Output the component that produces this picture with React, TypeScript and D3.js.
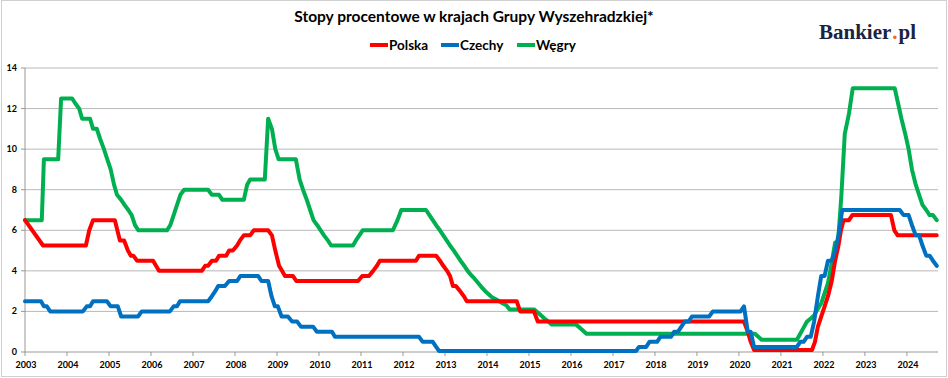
import React, { useLayoutEffect, useRef, useState } from "react";
import * as d3 from "d3";

type Pt = [number, number];

const title = "Stopy procentowe w krajach Grupy Wyszehradzkiej*";
const seriesNames = ["Polska", "Czechy", "Węgry"];
const seriesColors = ["#ff0000", "#0070c0", "#00b050"];
const yTicks = [0, 2, 4, 6, 8, 10, 12, 14];
const years = d3.range(2003, 2025);

const polska: Pt[] = [
  [2003.0, 6.5], [2003.43, 5.25], [2004.45, 5.25], [2004.53, 6.0], [2004.62, 6.5], [2005.14, 6.5],
  [2005.26, 5.5], [2005.36, 5.5], [2005.45, 5.0], [2005.52, 4.75], [2005.58, 4.75], [2005.67, 4.5],
  [2006.05, 4.5], [2006.19, 4.0], [2007.21, 4.0], [2007.29, 4.25], [2007.36, 4.25], [2007.45, 4.5],
  [2007.55, 4.5], [2007.62, 4.75], [2007.79, 4.75], [2007.86, 5.0], [2007.95, 5.0], [2008.05, 5.25],
  [2008.12, 5.5], [2008.21, 5.75], [2008.36, 5.75], [2008.45, 6.0], [2008.79, 6.0], [2008.88, 5.75],
  [2008.96, 5.0], [2009.05, 4.25], [2009.12, 4.0], [2009.19, 3.75], [2009.38, 3.75], [2009.46, 3.5],
  [2010.93, 3.5], [2011.03, 3.75], [2011.19, 3.75], [2011.29, 4.0], [2011.38, 4.25], [2011.45, 4.5],
  [2012.31, 4.5], [2012.38, 4.75], [2012.79, 4.75], [2012.88, 4.5], [2012.96, 4.25], [2013.05, 4.0],
  [2013.12, 3.75], [2013.19, 3.25], [2013.26, 3.25], [2013.36, 3.0], [2013.45, 2.75], [2013.52, 2.5],
  [2014.71, 2.5], [2014.79, 2.0], [2015.12, 2.0], [2015.21, 1.5], [2020.12, 1.5], [2020.21, 1.0],
  [2020.28, 0.5], [2020.36, 0.1], [2021.74, 0.1], [2021.81, 0.5], [2021.88, 1.25], [2021.96, 1.75],
  [2022.04, 2.25], [2022.12, 2.75], [2022.21, 3.5], [2022.29, 4.5], [2022.37, 5.25], [2022.43, 6.0],
  [2022.49, 6.5], [2022.62, 6.5], [2022.7, 6.75], [2023.62, 6.75], [2023.7, 6.0], [2023.78, 5.75],
  [2024.71, 5.75],
];

const czechy: Pt[] = [
  [2003.0, 2.5], [2003.38, 2.5], [2003.45, 2.25], [2003.52, 2.25], [2003.6, 2.0], [2004.38, 2.0],
  [2004.47, 2.25], [2004.55, 2.25], [2004.62, 2.5], [2004.95, 2.5], [2005.04, 2.25], [2005.21, 2.25],
  [2005.29, 1.75], [2005.69, 1.75], [2005.78, 2.0], [2006.45, 2.0], [2006.54, 2.25], [2006.62, 2.25],
  [2006.69, 2.5], [2007.36, 2.5], [2007.45, 2.75], [2007.53, 3.0], [2007.6, 3.25], [2007.76, 3.25],
  [2007.86, 3.5], [2008.05, 3.5], [2008.13, 3.75], [2008.55, 3.75], [2008.63, 3.5], [2008.79, 3.5],
  [2008.87, 2.75], [2008.95, 2.25], [2009.02, 2.25], [2009.11, 1.75], [2009.26, 1.75], [2009.36, 1.5],
  [2009.48, 1.5], [2009.57, 1.25], [2009.86, 1.25], [2009.95, 1.0], [2010.31, 1.0], [2010.38, 0.75],
  [2012.38, 0.75], [2012.47, 0.5], [2012.71, 0.5], [2012.79, 0.25], [2012.86, 0.05], [2017.55, 0.05],
  [2017.62, 0.25], [2017.79, 0.25], [2017.87, 0.5], [2018.05, 0.5], [2018.13, 0.75], [2018.38, 0.75],
  [2018.46, 1.0], [2018.55, 1.0], [2018.63, 1.25], [2018.71, 1.5], [2018.8, 1.5], [2018.88, 1.75],
  [2019.29, 1.75], [2019.38, 2.0], [2020.04, 2.0], [2020.12, 2.25], [2020.21, 1.0], [2020.28, 1.0],
  [2020.36, 0.25], [2021.38, 0.25], [2021.46, 0.5], [2021.54, 0.5], [2021.62, 0.75], [2021.71, 0.75],
  [2021.79, 1.5], [2021.88, 2.75], [2021.96, 3.75], [2022.04, 3.75], [2022.12, 4.5], [2022.21, 4.5],
  [2022.29, 5.0], [2022.37, 5.75], [2022.46, 7.0], [2023.83, 7.0], [2023.92, 6.75], [2024.04, 6.75],
  [2024.12, 6.25], [2024.21, 5.75], [2024.29, 5.75], [2024.37, 5.25], [2024.46, 4.75], [2024.54, 4.75],
  [2024.62, 4.5], [2024.71, 4.25],
];

const wegry: Pt[] = [
  [2003.0, 6.5], [2003.4, 6.5], [2003.45, 9.5], [2003.79, 9.5], [2003.86, 12.5], [2004.12, 12.5],
  [2004.2, 12.25], [2004.29, 12.0], [2004.36, 11.5], [2004.55, 11.5], [2004.62, 11.0], [2004.71, 11.0],
  [2004.79, 10.5], [2004.88, 10.0], [2004.96, 9.5], [2005.04, 9.0], [2005.12, 8.25], [2005.19, 7.75],
  [2005.29, 7.5], [2005.37, 7.25], [2005.46, 7.0], [2005.54, 6.75], [2005.62, 6.25], [2005.7, 6.0],
  [2006.38, 6.0], [2006.46, 6.25], [2006.54, 6.75], [2006.62, 7.25], [2006.7, 7.75], [2006.79, 8.0],
  [2007.36, 8.0], [2007.45, 7.75], [2007.62, 7.75], [2007.7, 7.5], [2008.21, 7.5], [2008.29, 8.25],
  [2008.36, 8.5], [2008.71, 8.5], [2008.79, 11.5], [2008.88, 11.0], [2008.96, 10.0], [2009.04, 9.5],
  [2009.45, 9.5], [2009.54, 8.5], [2009.62, 8.0], [2009.71, 7.5], [2009.79, 7.0], [2009.87, 6.5],
  [2009.96, 6.25], [2010.04, 6.0], [2010.12, 5.75], [2010.21, 5.5], [2010.29, 5.25], [2010.81, 5.25],
  [2010.88, 5.5], [2010.96, 5.75], [2011.04, 6.0], [2011.76, 6.0], [2011.87, 6.5], [2011.96, 7.0],
  [2012.55, 7.0], [2012.63, 6.75], [2012.71, 6.5], [2012.79, 6.25], [2012.88, 6.0], [2012.96, 5.75],
  [2013.04, 5.5], [2013.12, 5.25], [2013.21, 5.0], [2013.29, 4.75], [2013.37, 4.5], [2013.46, 4.25],
  [2013.54, 4.0], [2013.62, 3.8], [2013.71, 3.6], [2013.79, 3.4], [2013.87, 3.2], [2013.96, 3.0],
  [2014.04, 2.85], [2014.12, 2.7], [2014.21, 2.6], [2014.29, 2.5], [2014.37, 2.4], [2014.46, 2.3],
  [2014.54, 2.1], [2015.12, 2.1], [2015.21, 1.95], [2015.29, 1.8], [2015.37, 1.65], [2015.46, 1.5],
  [2015.54, 1.35], [2016.12, 1.35], [2016.21, 1.2], [2016.29, 1.05], [2016.37, 0.9], [2020.38, 0.9],
  [2020.46, 0.75], [2020.54, 0.6], [2021.38, 0.6], [2021.46, 0.9], [2021.54, 1.2], [2021.62, 1.5],
  [2021.71, 1.65], [2021.79, 1.8], [2021.87, 2.1], [2021.96, 2.4], [2022.04, 2.9], [2022.12, 3.4],
  [2022.21, 4.4], [2022.29, 5.4], [2022.36, 5.4], [2022.44, 7.75], [2022.52, 10.75], [2022.62, 11.75],
  [2022.71, 13.0], [2023.71, 13.0], [2023.79, 12.25], [2023.87, 11.5], [2023.96, 10.75], [2024.04, 10.0],
  [2024.12, 9.0], [2024.21, 8.25], [2024.29, 7.75], [2024.37, 7.25], [2024.46, 7.0], [2024.54, 6.75],
  [2024.62, 6.75], [2024.71, 6.5],
];

const W = 948;
const H = 378;
const FONT = "Lato, 'Open Sans', sans-serif";
const LOGO_FONT = "'Liberation Serif', 'DejaVu Serif', serif";
const LOGO_X = 819;

export default function App() {
  const x = d3.scaleLinear().domain([2003, 2024.74]).range([25, 938]);
  const y = d3.scaleLinear().domain([0, 14]).range([352, 68]);
  const line = d3
    .line<Pt>()
    .x((d) => x(d[0]))
    .y((d) => y(d[1]));

  const data = [polska, czechy, wegry];
  const drawOrder = [2, 0, 1];
  const legendX = [370, 441, 517];

  const bRef = useRef<SVGTextElement>(null);
  const dRef = useRef<SVGTextElement>(null);
  const [logoPos, setLogoPos] = useState({ dot: 892, pl: 899 });
  useLayoutEffect(() => {
    if (bRef.current && dRef.current) {
      const wb = bRef.current.getComputedTextLength();
      const wd = dRef.current.getComputedTextLength();
      setLogoPos({ dot: LOGO_X + wb + 1, pl: LOGO_X + wb + wd + 2 });
    }
  }, []);

  return (
    <svg
      width={W}
      height={H}
      style={{ position: "absolute", left: 0, top: 0, display: "block", background: "#fff" }}
      fontFamily={FONT}
    >
      <rect x={1.5} y={0.5} width={945} height={376} fill="#fff" stroke="#d0d0d0" />
      <text x={474} y={22} textAnchor="middle" fontSize={15.5} fontWeight={700} fill="#000">
        {title}
      </text>
      {seriesNames.map((n, i) => (
        <g key={n}>
          <line x1={legendX[i]} x2={legendX[i] + 18} y1={45} y2={45} stroke={seriesColors[i]} strokeWidth={4} />
          <text x={legendX[i] + 19} y={50} fontSize={13.5} fontWeight={700} fill="#000">
            {n}
          </text>
        </g>
      ))}
      <text ref={bRef} x={LOGO_X} y={39} fontFamily={LOGO_FONT} fontWeight={700} fontSize={21} fill="#1b2340">
        Bankier
      </text>
      <text ref={dRef} x={logoPos.dot} y={39} fontFamily={LOGO_FONT} fontWeight={700} fontSize={21} fill="#f26522">
        .
      </text>
      <text x={logoPos.pl} y={39} fontFamily={LOGO_FONT} fontWeight={700} fontSize={21} fill="#1b2340">
        pl
      </text>

      {yTicks.map((t) => (
        <g key={t}>
          {t > 0 && <line x1={25} x2={938} y1={y(t)} y2={y(t)} stroke="#b8b8b8" strokeWidth={1} />}
          <line x1={21} x2={25} y1={y(t)} y2={y(t)} stroke="#999" strokeWidth={1} />
          <text x={17} y={y(t) + 3} textAnchor="end" fontSize={9} fontWeight={700} fill="#000">
            {t}
          </text>
        </g>
      ))}
      <line x1={25} x2={25} y1={68} y2={352} stroke="#999" strokeWidth={1} />
      <line x1={25} x2={938} y1={352} y2={352} stroke="#999" strokeWidth={1} />
      {years.map((yr) => (
        <g key={yr}>
          <line x1={x(yr)} x2={x(yr)} y1={352} y2={356} stroke="#999" strokeWidth={1} />
          <text x={x(yr) + 1} y={368} textAnchor="middle" fontSize={9} fontWeight={700} fill="#000">
            {yr}
          </text>
        </g>
      ))}

      {drawOrder.map((i) => (
        <path
          key={seriesNames[i]}
          d={line(data[i]) || ""}
          fill="none"
          stroke={seriesColors[i]}
          strokeWidth={4}
          strokeLinejoin="round"
          strokeLinecap="round"
        />
      ))}
    </svg>
  );
}
